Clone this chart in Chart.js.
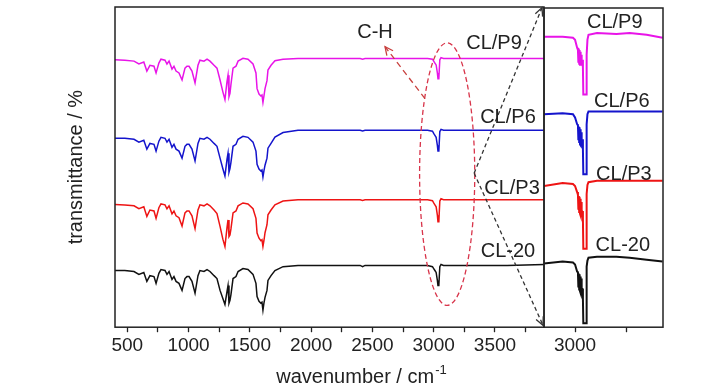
<!DOCTYPE html>
<html>
<head>
<meta charset="utf-8">
<script src="https://cdn.jsdelivr.net/npm/chart.js@4.4.1/dist/chart.umd.min.js"></script>
<style>
  html, body { margin: 0; padding: 0; background: #fff; }
</style>
</head>
<body>
<canvas id="ftirChart" width="728" height="390"></canvas>
<script>
// main spectra (wavenumber / cm-1), stacked transmittance in arbitrary units
const wavenumbers = [
    400, 480, 555, 595, 635, 660, 685, 718, 735, 758,
    775, 808, 824, 841, 865, 881, 898, 922, 947, 971,
    987, 1004, 1028, 1053, 1077, 1093, 1126, 1151, 1175, 1208,
    1232, 1257, 1280, 1297, 1314, 1322, 1330, 1338, 1346, 1363,
    1387, 1404, 1444, 1485, 1526, 1550, 1559, 1575, 1590, 1599,
    1607, 1615, 1624, 1640, 1648, 1673, 1705, 1771, 1893, 2276,
    2400, 2420, 2440, 2700, 2950, 2990, 3000, 3010, 3020, 3030,
    3035, 3042, 3050, 3060, 3080, 3300, 3600, 3900
];
const cl20 = [
    17.7, 17.7, 17.4, 16.5, 17.1, 14.3, 16.1, 15.8, 13.7, 16.8,
    18.0, 17.7, 16.5, 17.4, 14.9, 15.8, 14.3, 13.7, 11.5, 15.2,
    15.8, 15.8, 14.3, 10.6, 16.1, 17.7, 17.4, 18.0, 17.4, 16.1,
    15.2, 11.5, 9.0, 7.1, 11.2, 13.0, 7.5, 8.4, 10.2, 15.2,
    15.8, 17.4, 18.3, 18.0, 16.5, 13.7, 9.6, 8.1, 7.5, 7.8,
    5.3, 7.5, 9.3, 11.5, 14.6, 16.1, 17.7, 18.9, 19.3, 19.3,
    19.3, 18.9, 19.3, 19.3, 19.3, 18.9, 18.3, 17.7, 17.1, 14.6,
    13.0, 13.0, 18.9, 19.6, 19.3, 19.3, 19.3, 19.6
];
const clp3 = [
    38.3, 38.2, 37.9, 37.0, 37.6, 34.6, 36.6, 36.3, 34.0, 37.3,
    38.5, 38.2, 37.0, 37.9, 35.4, 36.3, 34.8, 34.2, 31.6, 35.7,
    36.3, 36.3, 34.8, 30.8, 36.6, 38.2, 37.9, 38.5, 37.9, 36.6,
    35.5, 31.5, 27.5, 25.2, 31.2, 33.5, 28.3, 28.8, 30.7, 35.7,
    36.3, 37.9, 38.8, 38.5, 37.0, 34.0, 29.4, 27.8, 27.0, 27.3,
    25.2, 27.0, 29.5, 32.0, 35.1, 36.6, 38.2, 39.4, 39.8, 39.8,
    39.8, 39.6, 39.8, 39.8, 39.8, 39.5, 38.8, 38.2, 37.6, 35.0,
    32.9, 32.9, 39.4, 40.1, 39.8, 39.8, 39.8, 39.8
];
const clp6 = [
    59.0, 59.0, 58.7, 57.8, 58.4, 55.6, 57.4, 57.1, 55.0, 58.1,
    59.3, 59.0, 57.8, 58.7, 56.2, 57.1, 55.6, 55.0, 52.8, 56.5,
    57.1, 57.1, 55.6, 51.9, 57.4, 59.0, 58.7, 59.3, 58.7, 57.4,
    56.5, 52.8, 49.5, 47.2, 52.5, 54.3, 48.4, 49.5, 51.5, 56.5,
    57.1, 58.7, 59.6, 59.3, 57.8, 55.0, 50.9, 49.4, 48.8, 49.1,
    46.9, 48.8, 50.6, 52.8, 55.9, 57.4, 59.4, 60.8, 61.5, 61.5,
    61.5, 61.3, 61.5, 61.5, 61.5, 61.2, 60.5, 59.9, 59.3, 56.8,
    55.0, 55.0, 61.1, 61.8, 61.5, 61.5, 61.5, 61.5
];
const clp9 = [
    83.5, 83.4, 83.1, 82.2, 82.8, 80.0, 81.8, 81.5, 79.4, 82.5,
    83.7, 83.4, 82.2, 83.1, 80.6, 81.5, 80.0, 79.4, 77.2, 80.9,
    81.5, 81.5, 80.0, 76.3, 81.8, 83.4, 83.1, 83.7, 83.1, 81.8,
    80.9, 77.2, 73.5, 71.1, 76.8, 78.7, 72.0, 73.0, 75.8, 80.9,
    81.5, 83.1, 84.0, 83.7, 82.2, 79.4, 74.5, 72.8, 72.2, 72.5,
    70.2, 72.2, 74.5, 77.0, 80.3, 81.8, 83.2, 83.7, 83.9, 83.9,
    83.9, 83.7, 83.9, 83.9, 83.9, 83.7, 83.1, 82.5, 81.9, 79.4,
    77.6, 77.6, 83.5, 84.2, 83.9, 83.9, 83.9, 83.9
];

// enlarged C-H region (right panel)
const insetWavenumbers = [
    2850, 2940, 2990, 3000, 3010, 3014, 3016, 3018, 3020, 3022,
    3024, 3026, 3028, 3030, 3032, 3034, 3038, 3040, 3053, 3056,
    3060, 3065, 3106, 3200, 3264, 3346, 3423
];
const cl20Inset = [
    19.9, 20.5, 20.2, 19.6, 17.4, 17.1, 12.7, 16.8, 11.8, 16.5,
    11.2, 15.8, 10.6, 15.2, 10.2, 12.1, 9.0, 1.2, 1.2, 18.9,
    20.8, 21.7, 22.0, 22.0, 21.7, 21.1, 20.5
];
const clp3Inset = [
    44.1, 45.0, 44.7, 44.1, 42.2, 41.3, 37.0, 41.0, 36.0, 40.7,
    35.4, 40.1, 34.8, 39.1, 34.5, 36.3, 33.9, 24.5, 24.5, 41.6,
    44.4, 45.3, 45.7, 45.7, 45.7, 45.7, 45.7
];
const clp6Inset = [
    66.5, 66.8, 66.5, 65.5, 63.4, 63.0, 58.7, 62.7, 57.8, 62.4,
    57.1, 61.8, 56.8, 60.9, 56.5, 58.7, 55.6, 47.8, 47.8, 63.4,
    66.5, 67.4, 67.4, 67.4, 67.4, 67.4, 67.4
];
const clp9Inset = [
    90.7, 90.7, 90.4, 89.8, 87.3, 86.6, 82.9, 87.0, 82.3, 86.6,
    82.0, 86.0, 82.0, 85.1, 81.7, 83.5, 81.1, 72.7, 72.7, 85.1,
    89.8, 91.3, 91.9, 91.6, 91.9, 91.3, 90.4
];

const seriesNames = ['CL-20', 'CL/P3', 'CL/P6', 'CL/P9'];
const seriesColors = ['#111111', '#ee1414', '#1414cc', '#e814e8'];
const mainTicks = [500, 750, 1000, 1250, 1500, 1750, 2000, 2250, 2500, 2750, 3000, 3250, 3500, 3750];
const insetTicks = [3000, 3250];

// text and marks laid over the plot, in data units
const mainLabels = [
    {text: 'CL/P9', x: 3492, y: 88.5},
    {text: 'CL/P6', x: 3606, y: 65.5},
    {text: 'CL/P3', x: 3639, y: 43.2},
    {text: 'CL-20', x: 3606, y: 23.6},
    {text: 'C-H', x: 2521, y: 91.9}
];
const insetLabels = [
    {text: 'CL/P9', x: 3192, y: 95.3},
    {text: 'CL/P6', x: 3226, y: 70.5},
    {text: 'CL/P3', x: 3236, y: 47.8},
    {text: 'CL-20', x: 3231, y: 25.5}
];
const ellipseBox = {xMin: 2885, xMax: 3335, yMin: 6.8, yMax: 88.8};
const arrows = [
    {from: [2929, 71.4], to: [2603, 87.6], color: '#c8413f', dash: [6, 4]},
    {from: [3330, 48.1], to: [3884, 99.8], color: '#333333', dash: [4, 3]},
    {from: [3330, 48.1], to: [3892, 0.6], color: '#333333', dash: [4, 3]}
];

const FONT = '"Liberation Sans", Arial, sans-serif';

function toPoints(xs, ys) {
    return xs.map((x, i) => ({x: x, y: ys[i]}));
}

const mainSets = [cl20, clp3, clp6, clp9];
const insetSets = [cl20Inset, clp3Inset, clp6Inset, clp9Inset];
const datasets = [];
mainSets.forEach((ys, i) => {
    datasets.push({
        label: seriesNames[i],
        data: toPoints(wavenumbers, ys),
        borderColor: seriesColors[i],
        borderWidth: 1.5,
        xAxisID: 'x',
        yAxisID: 'y'
    });
});
insetSets.forEach((ys, i) => {
    datasets.push({
        label: seriesNames[i] + ' (C-H)',
        data: toPoints(insetWavenumbers, ys),
        borderColor: seriesColors[i],
        borderWidth: 2,
        xAxisID: 'x2',
        yAxisID: 'y'
    });
});

function drawArrow(ctx, x1, y1, x2, y2, color, dash) {
    ctx.save();
    ctx.strokeStyle = color;
    ctx.lineWidth = 1.3;
    ctx.setLineDash(dash);
    ctx.beginPath();
    ctx.moveTo(x1, y1);
    ctx.lineTo(x2, y2);
    ctx.stroke();
    ctx.setLineDash([]);
    const ang = Math.atan2(y2 - y1, x2 - x1);
    const len = 9;
    ctx.beginPath();
    ctx.moveTo(x2 - len * Math.cos(ang - 0.45), y2 - len * Math.sin(ang - 0.45));
    ctx.lineTo(x2, y2);
    ctx.lineTo(x2 - len * Math.cos(ang + 0.45), y2 - len * Math.sin(ang + 0.45));
    ctx.stroke();
    ctx.restore();
}

const overlay = {
    id: 'overlay',
    afterDraw(chart) {
        const ctx = chart.ctx;
        const area = chart.chartArea;
        const x = chart.scales.x, x2 = chart.scales.x2, y = chart.scales.y;
        ctx.save();

        // frames of both panels
        ctx.strokeStyle = '#222';
        ctx.lineWidth = 1.5;
        ctx.strokeRect(x.left, area.top, x.right - x.left, area.bottom - area.top);
        ctx.strokeRect(x2.left, area.top + 1, x2.right - x2.left, area.bottom - area.top - 1);

        // dashed ellipse round the C-H band
        const cx = x.getPixelForValue((ellipseBox.xMin + ellipseBox.xMax) / 2);
        const cy = y.getPixelForValue((ellipseBox.yMin + ellipseBox.yMax) / 2);
        const rx = Math.abs(x.getPixelForValue(ellipseBox.xMax) - x.getPixelForValue(ellipseBox.xMin)) / 2;
        const ry = Math.abs(y.getPixelForValue(ellipseBox.yMax) - y.getPixelForValue(ellipseBox.yMin)) / 2;
        ctx.strokeStyle = '#d8344a';
        ctx.lineWidth = 1.3;
        ctx.setLineDash([5, 3]);
        ctx.beginPath();
        ctx.ellipse(cx, cy, rx, ry, 0, 0, Math.PI * 2);
        ctx.stroke();
        ctx.setLineDash([]);

        arrows.forEach(a => {
            drawArrow(ctx,
                x.getPixelForValue(a.from[0]), y.getPixelForValue(a.from[1]),
                x.getPixelForValue(a.to[0]), y.getPixelForValue(a.to[1]),
                a.color, a.dash);
        });

        // series labels
        ctx.fillStyle = '#222';
        ctx.font = '20px ' + FONT;
        ctx.textAlign = 'center';
        ctx.textBaseline = 'middle';
        mainLabels.forEach(l => {
            ctx.fillText(l.text, x.getPixelForValue(l.x), y.getPixelForValue(l.y));
        });
        insetLabels.forEach(l => {
            ctx.fillText(l.text, x2.getPixelForValue(l.x), y.getPixelForValue(l.y));
        });

        // x axis title with superscript
        const main = 'wavenumber / cm';
        const sup = '-1';
        ctx.font = '20px ' + FONT;
        const w1 = ctx.measureText(main).width;
        ctx.font = '13px ' + FONT;
        const w2 = ctx.measureText(sup).width;
        const startX = 361 - (w1 + w2) / 2;
        ctx.textAlign = 'left';
        ctx.textBaseline = 'alphabetic';
        ctx.font = '20px ' + FONT;
        ctx.fillText(main, startX, 383);
        ctx.font = '13px ' + FONT;
        ctx.fillText(sup, startX + w1 + 1, 374);
        ctx.restore();
    }
};

const tickFont = {family: FONT, size: 19, lineHeight: 1.2};

new Chart(document.getElementById('ftirChart'), {
    type: 'line',
    data: {datasets: datasets},
    options: {
        responsive: false,
        animation: false,
        events: [],
        layout: {padding: {left: 60, right: 65, top: 7, bottom: 31}},
        elements: {
            line: {tension: 0},
            point: {radius: 0}
        },
        plugins: {
            legend: {display: false},
            tooltip: {enabled: false}
        },
        scales: {
            x: {
                type: 'linear',
                position: 'bottom',
                stack: 'wn',
                stackWeight: 429,
                min: 400,
                max: 3900,
                afterBuildTicks: s => { s.ticks = mainTicks.map(v => ({value: v})); },
                ticks: {
                    autoSkip: false,
                    maxRotation: 0,
                    minRotation: 0,
                    padding: 2,
                    color: '#222',
                    font: tickFont,
                    callback: v => (v % 500 === 0 ? String(v) : '')
                },
                grid: {drawOnChartArea: false, drawTicks: true, tickLength: 5, tickColor: '#222', tickWidth: 1.3},
                border: {display: false}
            },
            x2: {
                type: 'linear',
                position: 'bottom',
                stack: 'wn',
                stackWeight: 119,
                min: 2850,
                max: 3425,
                afterBuildTicks: s => { s.ticks = insetTicks.map(v => ({value: v})); },
                ticks: {
                    autoSkip: false,
                    maxRotation: 0,
                    minRotation: 0,
                    padding: 2,
                    color: '#222',
                    font: tickFont,
                    callback: v => (v % 500 === 0 ? String(v) : '')
                },
                grid: {drawOnChartArea: false, drawTicks: true, tickLength: 5, tickColor: '#222', tickWidth: 1.3},
                border: {display: false}
            },
            y: {
                type: 'linear',
                position: 'left',
                min: 0,
                max: 100,
                ticks: {display: false},
                grid: {display: false, drawTicks: false},
                border: {display: false},
                title: {
                    display: true,
                    text: 'transmittance / %',
                    color: '#222',
                    font: {family: FONT, size: 20, lineHeight: 1.2},
                    padding: {top: 4, bottom: 27}
                }
            }
        }
    },
    plugins: [overlay]
});
</script>
</body>
</html>
